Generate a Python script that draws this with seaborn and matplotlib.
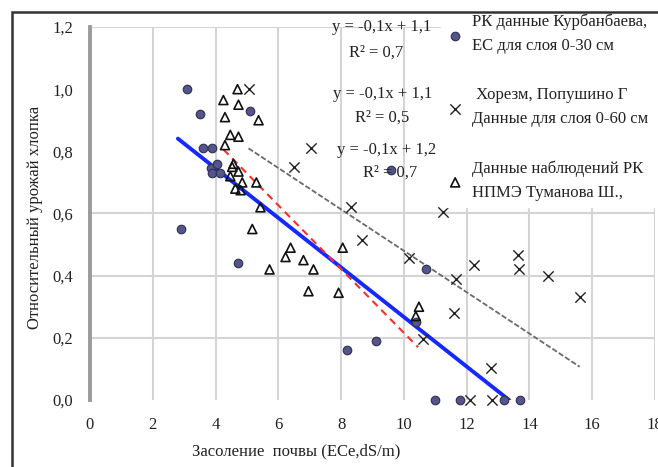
import numpy as np
import pandas as pd
import matplotlib
matplotlib.use("Agg")
import matplotlib.pyplot as plt
import seaborn as sns
from matplotlib.patches import Rectangle

# --- DATA ---
# РК, Курбанбаева (filled circles)
kurb_x = [3.1, 3.5, 3.6, 3.9, 5.1, 3.87, 4.05, 3.9, 4.15, 2.9, 4.7, 9.6, 10.7, 9.1, 8.2, 10.4, 11.0, 11.8, 13.2, 13.7]
kurb_y = [1.0, 0.92, 0.81, 0.81, 0.93, 0.745, 0.76, 0.73, 0.73, 0.55, 0.44, 0.74, 0.42, 0.19, 0.16, 0.25, 0.0, 0.0, 0.0, 0.0]

# Хорезм (x markers)
khor_x = [5.05, 7.03, 6.5, 8.3, 11.25, 8.65, 10.15, 12.24, 13.64, 13.68, 14.6, 11.66, 11.6, 10.6, 12.78, 12.1, 12.8, 15.6]
khor_y = [1.0, 0.81, 0.75, 0.62, 0.605, 0.515, 0.457, 0.435, 0.468, 0.42, 0.40, 0.39, 0.28, 0.197, 0.103, 0.0, 0.0, 0.33]

# РК наблюдения, Туманова (open triangles)
tum_x = [4.7, 4.25, 4.73, 4.3, 5.37, 4.47, 4.73, 4.3, 4.57, 4.53, 4.73, 4.47, 4.85, 4.63, 4.8,
         5.3, 5.43, 5.17, 6.39, 6.23, 6.8, 7.12, 5.72, 8.05, 6.96, 7.92, 10.48, 10.38]
tum_y = [1.0, 0.965, 0.95, 0.91, 0.9, 0.853, 0.847, 0.82, 0.76, 0.75, 0.735, 0.72, 0.70, 0.68, 0.675,
         0.70, 0.62, 0.55, 0.49, 0.46, 0.45, 0.42, 0.42, 0.49, 0.35, 0.345, 0.30, 0.27]

# linear trends: x range, slope, intercept
trend_names = ["kurb", "khor", "tum"]
trend_x0 = [2.8, 5.05, 4.25]
trend_x1 = [13.35, 15.6, 10.45]
trend_k = [-0.0797, -0.0666, -0.1026]
trend_b = [1.064, 1.146, 1.242]

eq_labels = ["y = -0,1x + 1,1", "y = -0,1x + 1,1", "y = -0,1x + 1,2"]
r2_labels = ["R² = 0,7", "R² = 0,5", "R² = 0,7"]

legend_labels = [
    "РК данные Курбанбаева,\nЕС для слоя 0-30 см",
    " Хорезм, Попушино Г\nДанные для слоя 0-60 см",
    "Данные наблюдений РК\nНПМЭ Туманова Ш.,",
]

x_ticks = [0, 2, 4, 6, 8, 10, 12, 14, 16, 18]
y_ticks = [0.0, 0.2, 0.4, 0.6, 0.8, 1.0, 1.2]
h_grid = [0.2, 0.4, 0.6, 1.2]

# --- STYLE ---
sns.set_style("white")
plt.rcParams['font.family'] = ['Liberation Serif', 'DejaVu Serif']
FS = 12

fig = plt.figure(figsize=(6.58, 4.67), dpi=100)
ax = fig.add_axes([90 / 658, 1 - 400 / 467, 565 / 658, 373 / 467])

# grid
ax.set_axisbelow(True)
for xv in x_ticks:
    ax.axvline(xv, color="#d4d4d4", lw=1.5, zorder=0)
for yv in h_grid:
    ax.axhline(yv, color="#d4d4d4", lw=1.5, zorder=0)

# trend lines
trend_style = {
    "kurb": dict(color="#1428ff", lw=2.8, linestyle="-"),
    "khor": dict(color="#6a6a6a", lw=1.3, linestyle=(0, (3, 1.2))),
    "tum": dict(color="#ff2a2a", lw=1.5, linestyle=(0, (3.5, 2.5))),
}
for name, x0, x1, k, b in zip(trend_names, trend_x0, trend_x1, trend_k, trend_b):
    xs = np.array([x0, x1])
    sns.lineplot(x=xs, y=k * xs + b, ax=ax, zorder=2, **trend_style[name])

# scatter series
sns.scatterplot(x=kurb_x, y=kurb_y, ax=ax, marker="o", s=38, color="#55558e",
                edgecolor="#30304e", linewidth=0.8, label=legend_labels[0], zorder=3, clip_on=False)
sns.scatterplot(x=khor_x, y=khor_y, ax=ax, marker="x", s=55, color="#222222",
                linewidth=1.0, label=legend_labels[1], zorder=3, clip_on=False)
sns.scatterplot(x=tum_x, y=tum_y, ax=ax, marker="^", s=42, facecolor="none",
                edgecolor="#111111", linewidth=1.2, label=legend_labels[2], zorder=3, clip_on=False)

ax.set_xlim(0, 18)
ax.set_ylim(0, 1.2)
ax.set_xticks(x_ticks)
ax.set_xticklabels([str(t) for t in x_ticks])
ax.set_yticks(y_ticks)
ax.set_yticklabels([f"{t:.1f}".replace(".", ",") for t in y_ticks])
ax.tick_params(axis="x", direction="out", length=4, width=1.2, color="#444444",
               labelsize=FS, pad=8, labelcolor="#222222")
ax.tick_params(axis="y", direction="out", length=5, width=1.2, color="#444444",
               labelsize=FS, pad=7, labelcolor="#222222")

for side in ["top", "right", "bottom"]:
    ax.spines[side].set_visible(False)
ax.spines["left"].set_color("#9a9a9a")
ax.spines["left"].set_linewidth(2.8)

ax.set_xlabel("Засоление  почвы (ECe,dS/m)", fontsize=FS, color="#222222")
ax.xaxis.set_label_coords(0.365, -0.115)
ax.set_ylabel("Относительный урожай хлопка", fontsize=FS, color="#222222")
ax.yaxis.set_label_coords(-0.083, 0.49)

# trend equations
eq_pos = [(9.30, 1.20, 9.11, 1.117), (9.33, 0.985, 9.30, 0.907), (9.46, 0.804, 9.56, 0.73)]
for (ex, ey, rx, ry), eq, r2 in zip(eq_pos, eq_labels, r2_labels):
    ax.text(ex, ey, eq, ha="center", va="center", fontsize=FS, color="#222222", clip_on=False, zorder=4)
    ax.text(rx, ry, r2, ha="center", va="center", fontsize=FS, color="#222222", clip_on=False, zorder=4)

# legend
leg = ax.legend(loc="upper left", bbox_to_anchor=(441 / 658, 1 - 8 / 467), bbox_transform=fig.transFigure,
                borderaxespad=0, borderpad=0.35, frameon=True, fancybox=False, fontsize=FS,
                handlelength=1.0, handletextpad=0.5, labelspacing=2.0)
leg.get_frame().set_facecolor("white")
leg.get_frame().set_edgecolor("white")
leg.get_frame().set_alpha(1)
for t in leg.get_texts():
    t.set_linespacing(1.65)
    t.set_color("#222222")

# outer chart border (only top and left fall inside the picture)
top = 1 - 12 / 467
fig.add_artist(Rectangle((12 / 658, -0.2), 1.2, top + 0.2,
                         transform=fig.transFigure, fill=False, edgecolor="#333333", lw=1.8, zorder=10))

fig.savefig("out.png", dpi=100)
